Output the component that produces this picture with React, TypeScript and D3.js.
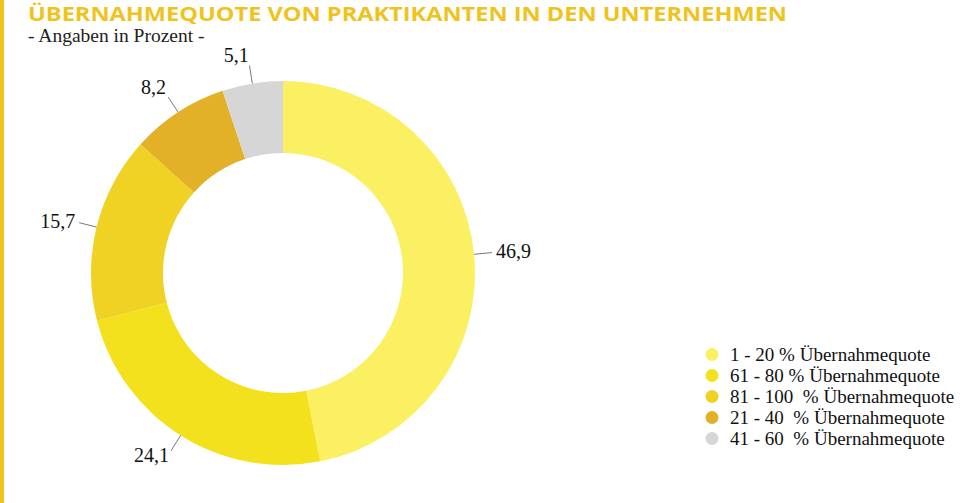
import React from "react";
import * as d3 from "d3";

const categories = [
  "1 - 20 % Übernahmequote",
  "61 - 80 % Übernahmequote",
  "81 - 100  % Übernahmequote",
  "21 - 40  % Übernahmequote",
  "41 - 60  % Übernahmequote",
];
const values = [46.9, 24.1, 15.7, 8.2, 5.1];
const valueLabels = ["46,9", "24,1", "15,7", "8,2", "5,1"];
const colors = ["#FAF062", "#F4E11E", "#EFD224", "#E2B128", "#D6D6D6"];

const W = 966;
const H = 503;
const cx = 283;
const cy = 273;
const outerR = 192;
const innerR = 120;
const serif = "'Liberation Serif', 'DejaVu Serif', serif";
const accent = "#F0C31C";

export default function App() {
  const data = values.map((v, i) => ({ v, i }));
  const pie = d3.pie<{ v: number; i: number }>().value((d) => d.v).sort(null);
  const arcs = pie(data);
  const arc = d3.arc<d3.PieArcDatum<{ v: number; i: number }>>().innerRadius(innerR).outerRadius(outerR);
  const legendY = d3.scaleBand<number>().domain(d3.range(categories.length)).range([344, 449]);

  return (
    <div style={{ position: "absolute", left: 0, top: 0 }}>
      <svg width={W} height={H} style={{ display: "block" }}>
        <rect x={0} y={0} width={W} height={H} fill="#fff" />
        <rect x={0} y={0} width={4} height={H} fill={accent} />
        <text
          x={28}
          y={21}
          fill={accent}
          fontFamily="'Open Sans', 'Noto Sans', sans-serif"
          fontWeight={700}
          fontSize={20}
          textLength={759}
          lengthAdjust="spacingAndGlyphs"
        >
          ÜBERNAHMEQUOTE VON PRAKTIKANTEN IN DEN UNTERNEHMEN
        </text>
        <text x={28} y={42} fill="#222" fontFamily={serif} fontSize={19.5}>
          - Angaben in Prozent -
        </text>
        <g transform={`translate(${cx},${cy})`}>
          {arcs.map((a) => (
            <path key={a.index} d={arc(a) || ""} fill={colors[a.index]} />
          ))}
          {arcs.map((a) => {
            const mid = (a.startAngle + a.endAngle) / 2;
            const sx = Math.sin(mid);
            const sy = -Math.cos(mid);
            const r1 = outerR;
            const r2 = outerR + 18;
            const r3 = outerR + 22;
            const right = sx > 0.1;
            const left = sx < -0.1;
            const anchor = right ? "start" : left ? "end" : "middle";
            const tx = sx * r3;
            const ty = sy * r3 + (sy > 0.3 ? 8 : sy < -0.3 ? 0 : 6);
            return (
              <g key={"l" + a.index}>
                <line x1={sx * r1} y1={sy * r1} x2={sx * r2} y2={sy * r2} stroke="#555" strokeWidth={0.8} />
                <text x={tx} y={ty} textAnchor={anchor} fontFamily={serif} fontSize={20} fill="#111">
                  {valueLabels[a.index]}
                </text>
              </g>
            );
          })}
        </g>
        {categories.map((c, i) => {
          const y = (legendY(i) || 0) + legendY.bandwidth() / 2;
          return (
            <g key={"lg" + i}>
              <circle cx={712} cy={y} r={6.5} fill={colors[i]} />
              <text x={730} y={y + 6} fontFamily={serif} fontSize={19} fill="#111" style={{ whiteSpace: "pre" }}>
                {c}
              </text>
            </g>
          );
        })}
      </svg>
    </div>
  );
}
